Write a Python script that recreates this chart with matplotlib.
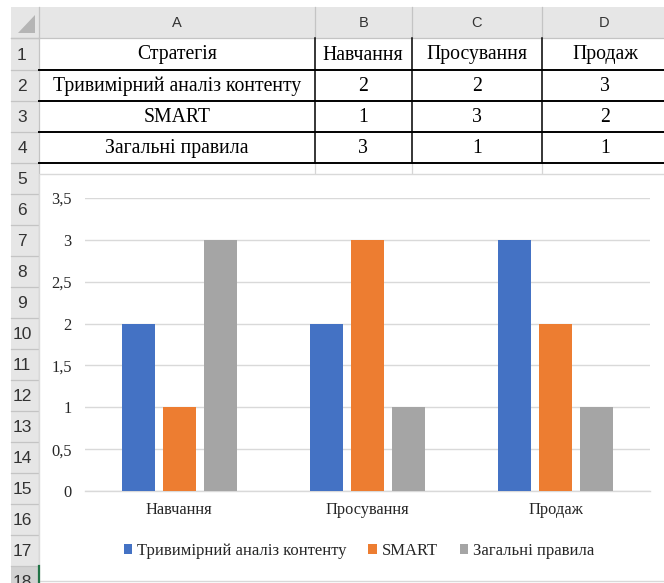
import matplotlib
matplotlib.use("Agg")
import matplotlib.pyplot as plt
from matplotlib.patches import Rectangle, Polygon
from matplotlib.lines import Line2D

# ---- data ----
strategies = ["Тривимірний аналіз контенту", "SMART", "Загальні правила"]
stages = ["Навчання", "Просування", "Продаж"]
values_3d = [2, 2, 3]
values_smart = [1, 3, 2]
values_general = [3, 1, 1]
series = [values_3d, values_smart, values_general]
header_first = "Стратегія"
col_letters = ["A", "B", "C", "D"]
y_ticks = [0, 0.5, 1, 1.5, 2, 2.5, 3, 3.5]

colors = ["#4472C4", "#ED7D31", "#A5A5A5"]

W, H = 664, 583
fig = plt.figure(figsize=(W / 100, H / 100), dpi=100)
fig.patch.set_facecolor("white")

# ---- worksheet layer (pixel coordinates) ----
bg = fig.add_axes([0, 0, 1, 1])
bg.set_xlim(0, W)
bg.set_ylim(H, 0)
bg.axis("off")

SERIF = ["Liberation Serif", "DejaVu Serif"]
SANS = ["Liberation Sans", "DejaVu Sans"]
hdr_fill = "#E6E6E6"
hdr_line = "#C4C4C4"
grid_line = "#D6D6D6"
text_dark = "#262626"

left0, top0 = 11, 7
rh_right = 39
col_edges = [39, 315, 412, 542, 670]
row_edges = [38, 70, 101, 132, 163] + [163 + 31 * k for k in range(1, 15)]

# column header strip and row header strip
bg.add_patch(Rectangle((left0, top0), W - left0, 38 - top0, fc=hdr_fill, ec="none", zorder=1))
bg.add_patch(Rectangle((left0, 38), rh_right - left0, H - 38, fc=hdr_fill, ec="none", zorder=1))
# selected row header (row 18)
bg.add_patch(Rectangle((left0, row_edges[17]), rh_right - left0, H - row_edges[17], fc="#D2D2D2", ec="none", zorder=1.1))
bg.add_line(Line2D([rh_right, rh_right], [row_edges[17], H], color="#217346", lw=1.6, zorder=6))

# corner triangle
bg.add_patch(Polygon([(18, 33), (35, 33), (35, 15)], closed=True, fc="#B5B5B5", ec="none", zorder=2))

# header separators
for x in col_edges[:-1]:
    bg.add_line(Line2D([x, x], [top0, 38], color=hdr_line, lw=0.9, zorder=2))
bg.add_line(Line2D([left0, W], [38, 38], color=hdr_line, lw=0.9, zorder=2))
for y in row_edges:
    bg.add_line(Line2D([left0, rh_right], [y, y], color=hdr_line, lw=0.9, zorder=2))
bg.add_line(Line2D([rh_right, rh_right], [38, H], color=hdr_line, lw=0.9, zorder=2))

# column letters
for i, letter in enumerate(col_letters):
    cx = (col_edges[i] + col_edges[i + 1]) / 2
    if i == 3:
        cx = 604
    bg.text(cx, 23, letter, ha="center", va="center", fontsize=10.5,
            family=SANS, color="#333333", zorder=3)

# row numbers
for r in range(18):
    cy = (row_edges[r] + row_edges[r + 1]) / 2
    bg.text(22, cy + 1, str(r + 1), ha="center", va="center", fontsize=12.5,
            family=SANS, color="#333333", zorder=3)

# table contents
table_rows = [[header_first] + stages]
for name, vals in zip(strategies, series):
    table_rows.append([name] + [str(v) for v in vals])
centers_x = [177, 363, 477, 605]
for r, row in enumerate(table_rows):
    cy = (row_edges[r] + row_edges[r + 1]) / 2
    for c, txt in enumerate(row):
        bg.text(centers_x[c], cy + 1, txt, ha="center", va="center", fontsize=14.2,
                family=SERIF, color="black", zorder=3)

# table borders
for y in row_edges[1:5]:
    bg.add_line(Line2D([rh_right, W], [y, y], color="black", lw=1.4, zorder=4))
for x in col_edges[1:4]:
    bg.add_line(Line2D([x, x], [38, 163], color="black", lw=1.1, zorder=4))
# sheet gridlines visible above the chart
for x in col_edges[1:4]:
    bg.add_line(Line2D([x, x], [163, 174], color=grid_line, lw=0.9, zorder=2))

# chart area
bg.add_patch(Rectangle((rh_right, 174), 700 - rh_right, 581 - 174, fc="white",
                       ec="#D9D9D9", lw=1.0, zorder=5))

# ---- chart ----
px0, px1 = 85, 650
py_top, py_bot = 198, 491
ax = fig.add_axes([px0 / W, (H - py_bot) / H, (px1 - px0) / W, (py_bot - py_top) / H])
ax.set_zorder(10)
ax.patch.set_alpha(0)

x = list(range(len(stages)))
bar_w = 0.175
offset = 0.218
bars = []
for k, (vals, col, name) in enumerate(zip(series, colors, strategies)):
    pos = [xi + (k - 1) * offset for xi in x]
    b = ax.bar(pos, vals, width=bar_w, color=col, label=name, zorder=3)
    bars.append(b)

ax.set_xlim(-0.5, 2.5)
ax.set_ylim(0, 3.5)
ax.set_yticks(y_ticks)
ax.set_yticklabels([("%g" % v).replace(".", ",") for v in y_ticks])
ax.set_xticks(x)
ax.set_xticklabels(stages)
ax.yaxis.grid(True, color="#D9D9D9", lw=1.0, zorder=0)
ax.set_axisbelow(True)
for s in ["top", "right", "left"]:
    ax.spines[s].set_visible(False)
ax.spines["bottom"].set_color("#D9D9D9")
ax.spines["bottom"].set_linewidth(1.0)
ax.tick_params(axis="y", length=0, pad=9.5, labelsize=11.8, labelcolor=text_dark)
ax.tick_params(axis="x", length=0, pad=8, labelsize=11.8, labelcolor=text_dark)
for lab in ax.get_xticklabels() + ax.get_yticklabels():
    lab.set_family(SERIF)

leg = ax.legend(handles=bars, labels=strategies, loc="center",
                bbox_to_anchor=(359 / W, (H - 551) / H), bbox_transform=fig.transFigure,
                ncol=3, frameon=False, handlelength=0.5, handleheight=0.5,
                handletextpad=0.3, columnspacing=1.3,
                prop={"family": SERIF, "size": 12})
for t in leg.get_texts():
    t.set_color(text_dark)

fig.savefig("out.png", dpi=100, facecolor="white")
